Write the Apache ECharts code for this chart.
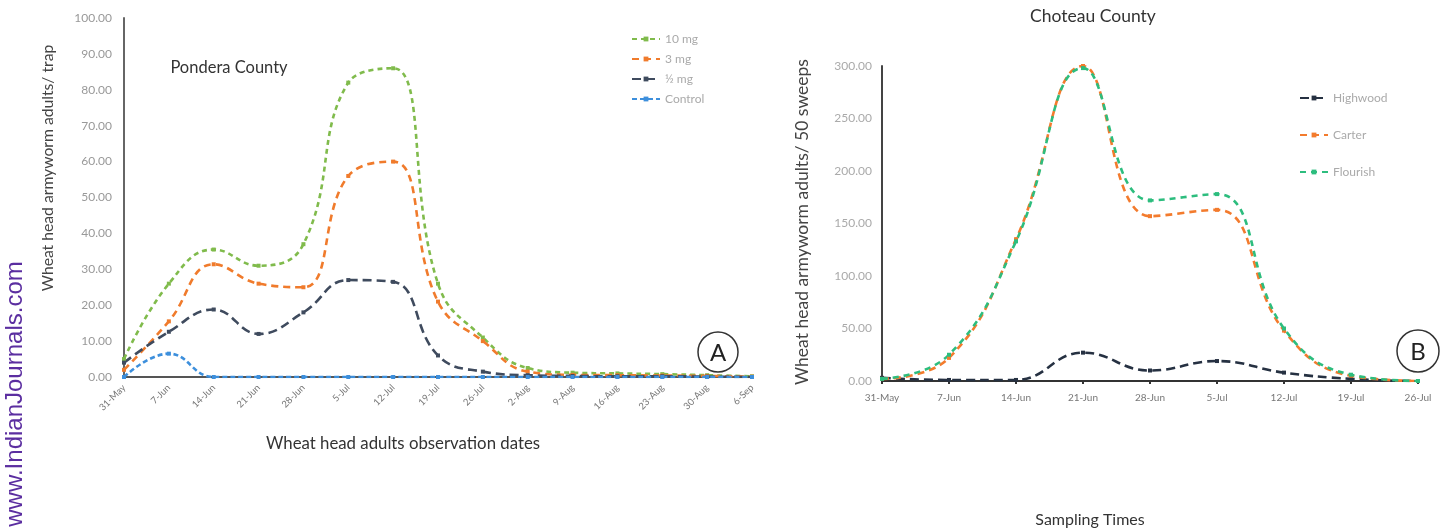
<!DOCTYPE html>
<html>
<head>
<meta charset="utf-8">
<script src="https://cdn.jsdelivr.net/npm/echarts@6/dist/echarts.min.js"></script>
<style>
html,body{margin:0;padding:0;background:#fff;}
#chart{width:1452px;height:531px;}
</style>
</head>
<body>
<div id="chart"></div>
<script>
// ---- Data ----
const leftCategories = ['31-May','7-Jun','14-Jun','21-Jun','28-Jun','5-Jul','12-Jul','19-Jul','26-Jul','2-Aug','9-Aug','16-Aug','23-Aug','30-Aug','6-Sep'];
const mg10    = [5, 26, 35.5, 31, 37, 82, 86, 26, 11, 2.5, 1.2, 1.0, 0.8, 0.5, 0.2];
const mg3     = [2, 15.5, 31.4, 26, 25, 56, 60, 21, 10, 1.5, 0.6, 0.5, 0.4, 0.3, 0.1];
const mgHalf  = [4, 12.6, 18.8, 12, 18, 27, 26.5, 6, 1.5, 0.5, 0.3, 0.2, 0.2, 0.1, 0];
const control = [0, 6.5, 0, 0, 0, 0, 0, 0, 0, 0, 0, 0, 0, 0, 0];
const leftNames = ['10 mg', '3 mg', '\u00BD mg', 'Control'];

const rightCategories = ['31-May','7-Jun','14-Jun','21-Jun','28-Jun','5-Jul','12-Jul','19-Jul','26-Jul'];
const highwood = [3, 1, 1, 27, 10, 19, 8, 2, 0];
const carter   = [2, 22, 135, 300, 157, 163, 48, 5, 0];
const third    = [2, 25, 133, 298, 172, 178, 50, 6, 0];
const rightNames = ['Highwood', 'Carter', 'Flourish'];

const leftYTicks = {min: 0, max: 100, interval: 10};
const rightYTicks = {min: 0, max: 300, interval: 50};

// ---- Chart ----
const FONT = 'Lato, "Open Sans", sans-serif';
const chart = echarts.init(document.getElementById('chart'), null, {renderer: 'canvas'});

function lineSeries(name, data, color, xi, dash) {
  return {
    name: name, type: 'line', xAxisIndex: xi, yAxisIndex: xi, data: data,
    smooth: 0.45, symbol: 'rect', symbolSize: 4, showSymbol: true,
    itemStyle: {color: color},
    lineStyle: {color: color, width: 2.6, type: dash},
    emphasis: {disabled: true}, z: 3
  };
}

const fmt2 = v => v.toFixed(2);

const option = {
  backgroundColor: '#ffffff',
  animation: false,
  textStyle: {fontFamily: FONT},
  grid: [
    {left: 124, top: 18, width: 628, height: 359},
    {left: 882, top: 66, width: 536, height: 315}
  ],
  xAxis: [
    {
      type: 'category', gridIndex: 0, data: leftCategories, boundaryGap: false,
      axisLine: {lineStyle: {color: '#555', width: 2}},
      axisTick: {show: false},
      axisLabel: {rotate: 45, fontSize: 9.5, color: '#777', margin: 9, fontFamily: FONT, interval: 0},
      splitLine: {show: false}
    },
    {
      type: 'category', gridIndex: 1, data: rightCategories, boundaryGap: false,
      axisLine: {lineStyle: {color: '#333', width: 2}},
      axisTick: {show: true, length: 3, lineStyle: {color: '#333', width: 2}},
      axisLabel: {fontSize: 10, color: '#777', margin: 12, fontFamily: FONT, interval: 0},
      splitLine: {show: false}
    }
  ],
  yAxis: [
    {
      type: 'value', gridIndex: 0, min: leftYTicks.min, max: leftYTicks.max, interval: leftYTicks.interval,
      axisLine: {show: true, lineStyle: {color: '#666', width: 2}},
      axisTick: {show: false},
      axisLabel: {fontSize: 12, color: '#999', margin: 12, formatter: fmt2, fontFamily: FONT},
      splitLine: {show: false}
    },
    {
      type: 'value', gridIndex: 1, min: rightYTicks.min, max: rightYTicks.max, interval: rightYTicks.interval,
      axisLine: {show: true, lineStyle: {color: '#444', width: 2}},
      axisTick: {show: false},
      axisLabel: {fontSize: 12, color: '#aaa', margin: 10, formatter: fmt2, fontFamily: FONT},
      splitLine: {show: false}
    }
  ],
  legend: [
    {
      data: leftNames, orient: 'vertical', left: 626, top: 28, itemGap: 8,
      itemWidth: 28, itemHeight: 6,
      textStyle: {color: '#aaa', fontSize: 12, fontFamily: FONT}
    },
    {
      data: rightNames, orient: 'vertical', left: 1294, top: 87, itemGap: 25,
      itemWidth: 28, itemHeight: 6,
      textStyle: {color: '#aaa', fontSize: 12, fontFamily: FONT}
    }
  ],
  series: [
    lineSeries(leftNames[0], mg10, '#80bb4c', 0, [5, 4]),
    lineSeries(leftNames[1], mg3, '#f07b2c', 0, [7, 5]),
    lineSeries(leftNames[2], mgHalf, '#3f4b5e', 0, [9, 5]),
    lineSeries(leftNames[3], control, '#3d8fdc', 0, [5, 3]),
    lineSeries(rightNames[0], highwood, '#263142', 1, [9, 5]),
    lineSeries(rightNames[1], carter, '#f37b2d', 1, [7, 5]),
    lineSeries(rightNames[2], third, '#2dbd7e', 1, [6, 5])
  ],
  graphic: [
    {type: 'text', x: 229, y: 68, style: {text: 'Pondera County', fontSize: 16.5, fill: '#333', fontFamily: FONT, align: 'center', verticalAlign: 'middle'}},
    {type: 'text', x: 1093, y: 16, style: {text: 'Choteau County', fontSize: 17.5, fill: '#333', fontFamily: FONT, align: 'center', verticalAlign: 'middle'}},
    {type: 'text', x: 1090, y: 520, style: {text: 'Sampling Times', fontSize: 16, fill: '#333', fontFamily: FONT, align: 'center', verticalAlign: 'middle'}},
    {type: 'text', x: 403, y: 444, style: {text: 'Wheat head adults observation dates', fontSize: 16.8, fill: '#333', fontFamily: FONT, align: 'center', verticalAlign: 'middle'}},
    {type: 'text', x: 48, y: 168, rotation: Math.PI / 2, style: {text: 'Wheat head armyworm adults/ trap', fontSize: 15.7, fill: '#444', fontFamily: FONT, align: 'center', verticalAlign: 'middle'}},
    {type: 'text', x: 802, y: 222, rotation: Math.PI / 2, style: {text: 'Wheat head armyworm adults/ 50 sweeps', fontSize: 17.5, fill: '#444', fontFamily: FONT, align: 'center', verticalAlign: 'middle'}},
    {type: 'text', x: 15, y: 394, rotation: Math.PI / 2, style: {text: 'www.IndianJournals.com', fontSize: 24, fill: '#5b2ea0', fontFamily: '"Liberation Sans", Arial, sans-serif', align: 'center', verticalAlign: 'middle'}},
    {type: 'circle', shape: {cx: 718, cy: 352, r: 20}, style: {fill: '#fff', stroke: '#333', lineWidth: 1.5}, z: 10},
    {type: 'text', x: 718, y: 353, style: {text: 'A', fontSize: 24, fill: '#222', fontFamily: FONT, align: 'center', verticalAlign: 'middle'}, z: 11},
    {type: 'circle', shape: {cx: 1418, cy: 351, r: 21}, style: {fill: '#fff', stroke: '#333', lineWidth: 1.5}, z: 10},
    {type: 'text', x: 1418, y: 352, style: {text: 'B', fontSize: 24, fill: '#222', fontFamily: FONT, align: 'center', verticalAlign: 'middle'}, z: 11}
  ]
};
chart.setOption(option);
</script>
</body>
</html>
